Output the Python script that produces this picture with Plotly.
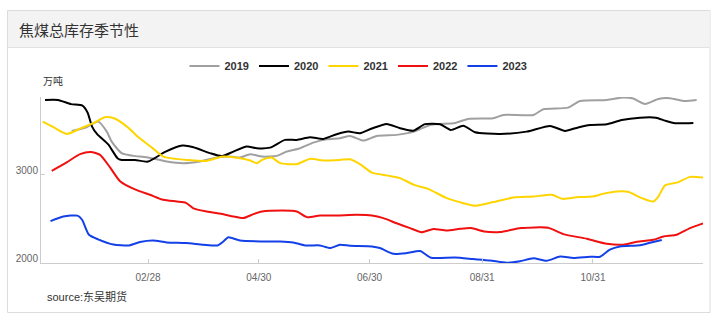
import numpy as np
import pandas as pd
import plotly.graph_objects as go

# ---------------- data (day-of-year, 万吨) ----------------
days_2019 = [17, 25.2, 31.6, 36.3, 39, 44.5, 50.9, 58.3, 69.3, 78.4, 87.6, 96.8, 104.2, 109.7, 115.2,
             121.8, 129.9, 135.4, 142.7, 150, 157.4, 164.7, 170.2, 177.6, 184.9, 195.9, 205.5, 214.3,
             228.1, 235.2, 249.1, 254.7, 271.2, 276.7, 290.3, 296.9, 311.6, 320.7, 326.2, 332.7, 340,
             346.4, 353.8, 361.1]
vals_2019 = [3500, 3542, 3606, 3492, 3378, 3247, 3216, 3201, 3151, 3133, 3153, 3197, 3208, 3197, 3235,
             3208, 3216, 3265, 3303, 3367, 3406, 3417, 3443, 3390, 3443, 3455, 3492, 3568,
             3591, 3636, 3644, 3682, 3682, 3747, 3765, 3841, 3852, 3881, 3869, 3807, 3864,
             3872, 3841, 3852]

days_2020 = [2.3, 9.4, 16.6, 22.9, 25.7, 28.2, 30.9, 37.1, 42.2, 44.5, 51.8, 59, 68.4, 78, 84, 93.1,
             99.7, 106, 113.4, 118.9, 126.2, 134.4, 140.9, 148.2, 155.5, 162.9, 169.3, 175.7, 182.3,
             190.4, 197.8, 205.1, 211.5, 219.8, 225.7, 232.6, 239.1, 252.8, 267.5, 280.4, 288.6,
             295.8, 302.4, 311.6, 319.8, 329.9, 338.7, 343.7, 349.2, 359.3]
vals_2020 = [3852, 3852, 3805, 3788, 3710, 3549, 3466, 3347, 3190, 3170, 3170, 3151, 3261, 3333, 3315, 3247,
             3213, 3265, 3322, 3303, 3310, 3398, 3398, 3428, 3409, 3463, 3492, 3474, 3528,
             3580, 3531, 3502, 3577, 3576, 3511, 3560, 3485, 3466, 3492, 3557, 3500,
             3540, 3568, 3576, 3625, 3651, 3651, 3617, 3588, 3591]

days_2021 = [1, 6.9, 14.2, 22.5, 28.9, 35.3, 40.3, 47.4, 54.6, 61.2, 67.4, 74.4, 80.3, 90.9, 100.5,
             109.7, 115.2, 118.9, 121.8, 127.1, 131.7, 140.9, 148.2, 155.5, 164.7, 170.2, 175.7,
             182.3, 190.4, 197.8, 205.5, 213.2, 223.5, 232.6, 239.2, 249.1, 260.2, 271.2, 281.3,
             287.3, 295.8, 303.5, 309.7, 317.1, 323.3, 330.9, 337.3, 340, 343.7, 351, 357.5, 364.6]
vals_2021 = [3606, 3542, 3466, 3534, 3588, 3656, 3644, 3549, 3413, 3310, 3208, 3182, 3170, 3159, 3208,
             3188, 3163, 3133, 3170, 3197, 3133, 3122, 3182, 3163, 3170, 3178, 3122,
             3026, 2994, 2963, 2886, 2841, 2735, 2678, 2648, 2690, 2742, 2753, 2773,
             2727, 2747, 2753, 2784, 2810, 2807, 2735, 2697, 2753, 2881, 2917, 2977, 2969]

days_2022 = [6, 14.2, 21.6, 27.5, 32.6, 38.1, 43.6, 51.8, 60.1, 67.4, 74.8, 79.9, 84, 91.3, 100.5, 106,
             111.5, 117, 121.8, 126.2, 140.9, 146.4, 153.7, 162.9, 173.9, 182.3, 188.6, 195.9,
             203.3, 209.7, 216.1, 223.5, 230.8, 236.9, 244, 252.8, 264.4, 279.3, 287.7, 300.6,
             311.6, 320.7, 328.1, 337.2, 342.8, 350.1, 357.5, 364.6]
vals_2022 = [3045, 3142, 3236, 3261, 3227, 3085, 2928, 2835, 2773, 2716, 2697, 2682, 2619, 2583, 2551, 2526,
             2508, 2553, 2583, 2591, 2583, 2519, 2538, 2538, 2545, 2538, 2508, 2449,
             2394, 2347, 2384, 2367, 2386, 2394, 2356, 2349, 2394, 2398, 2326, 2273,
             2216, 2205, 2239, 2261, 2299, 2318, 2394, 2447]

days_2023 = [5.3, 12.4, 20.2, 22.7, 26.5, 31.5, 39.9, 48.5, 54.6, 61.8, 69.3, 79.9, 89.5, 97.3, 100.5,
             103.2, 109.7, 121.8, 131.7, 139, 145.5, 153.7, 159.2, 164.7, 170.2, 182.3, 186.7,
             194.1, 201.5, 208.8, 214.8, 228, 238.1, 247.3, 256.5, 263.8, 271.2, 278.5, 285.9,
             293.2, 302.4, 307.9, 313.3, 318.8, 329.9, 335.4, 341.9]
vals_2023 = [2474, 2526, 2536, 2489, 2318, 2266, 2207, 2197, 2236, 2253, 2231, 2224, 2205, 2197, 2242,
             2290, 2252, 2242, 2242, 2231, 2197, 2197, 2167, 2205, 2193, 2185, 2167,
             2102, 2110, 2133, 2057, 2060, 2042, 2026, 1999, 2017, 2051, 2023, 2070,
             2055, 2068, 2068, 2148, 2185, 2199, 2227, 2258]

series = [
    ("2019", days_2019, vals_2019, "#a0a0a0"),
    ("2020", days_2020, vals_2020, "#000000"),
    ("2021", days_2021, vals_2021, "#ffd500"),
    ("2022", days_2022, vals_2022, "#f01010"),
    ("2023", days_2023, vals_2023, "#1440e8"),
]

tick_vals = ["2023-02-28", "2023-04-30", "2023-06-30", "2023-08-31", "2023-10-31"]
tick_text = ["02/28", "04/30", "06/30", "08/31", "10/31"]

BASE = pd.Timestamp("2023-01-01")


def to_date(d):
    return BASE + pd.to_timedelta(np.asarray(d, dtype=float) - 1, unit="D")


W, H = 717, 322
ML, MR, MT, MB = 41, 14, 97, 59
PW, PH = W - ML - MR, H - MT - MB


def px(x):
    return (x - ML) / PW


def py(y):
    return (H - MB - y) / PH


fig = go.Figure()
for name, d, v, c in series:
    fig.add_trace(go.Scatter(
        x=to_date(d), y=v, name=name, mode="lines",
        line=dict(color=c, width=2, shape="spline", smoothing=0.6),
    ))

FONT = "Liberation Sans, Arial, Noto Sans CJK SC, sans-serif"

fig.update_layout(
    width=W, height=H,
    margin=dict(l=ML, r=MR, t=MT, b=MB, pad=0),
    paper_bgcolor="white", plot_bgcolor="white",
    font=dict(family=FONT, size=10, color="#666"),
    showlegend=True,
    legend=dict(
        orientation="h", xref="container", yref="container",
        x=0.5, xanchor="center", y=1 - 66 / H, yanchor="middle",
        font=dict(size=11, color="#333", family=FONT, weight="bold"),
        itemwidth=30, bgcolor="rgba(0,0,0,0)",
    ),
    xaxis=dict(
        type="date",
        range=[to_date(0.08), to_date(364.6)],
        tickmode="array", tickvals=tick_vals, ticktext=tick_text,
        showgrid=False, zeroline=False,
        showline=True, linecolor="#ccc", linewidth=1,
        ticks="inside", ticklen=4, tickcolor="#ccc",
        tickfont=dict(size=10, color="#666"),
        ticklabelstandoff=5,
    ),
    yaxis=dict(
        range=[1997, 3886],
        tickvals=[2000, 3000], ticktext=["2000", "3000"],
        showgrid=False, zeroline=False,
        showline=True, linecolor="#ccc", linewidth=1,
        ticks="inside", ticklen=4, tickcolor="#ccc",
        tickfont=dict(size=10, color="#666"),
        ticklabelshift=-4,
    ),
    shapes=[
        # card
        dict(type="rect", xref="paper", yref="paper", layer="below",
             x0=px(7.5), x1=px(710), y0=py(312.5), y1=py(10.5),
             line=dict(color="#dcdcdc", width=1), fillcolor="white"),
        # header band
        dict(type="rect", xref="paper", yref="paper", layer="below",
             x0=px(8), x1=px(709.5), y0=py(47), y1=py(11),
             line=dict(width=0), fillcolor="#f3f3f3"),
        dict(type="line", xref="paper", yref="paper", layer="below",
             x0=px(8), x1=px(709.5), y0=py(47.5), y1=py(47.5),
             line=dict(color="#e2e2e2", width=1)),
    ],
    annotations=[
        dict(text="焦煤总库存季节性", xref="paper", yref="paper",
             x=px(17), y=py(29.5), xanchor="left", yanchor="middle", showarrow=False,
             font=dict(size=15, color="#333", family="Noto Sans CJK SC, sans-serif")),
        dict(text="万吨", xref="paper", yref="paper",
             x=px(41), y=py(80), xanchor="left", yanchor="middle", showarrow=False,
             font=dict(size=10, color="#333", family="Noto Sans CJK SC, sans-serif")),
        dict(text="source:东吴期货", xref="paper", yref="paper",
             x=px(45), y=py(296), xanchor="left", yanchor="middle", showarrow=False,
             font=dict(size=11, color="#333", family=FONT)),
    ],
)

fig.write_html("out.html")
